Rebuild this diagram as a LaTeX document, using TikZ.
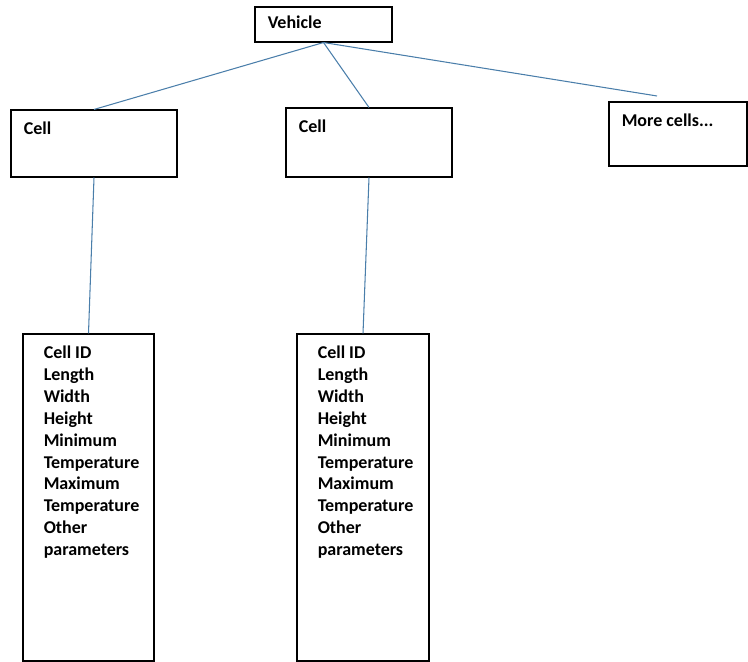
\documentclass[tikz,border=0pt]{standalone}
\usepackage{fontspec}
\setmainfont{Carlito}
\usepackage{tikz}
\usetikzlibrary{positioning}
\definecolor{linkblue}{RGB}{74,126,170}
\tikzset{
    mybox/.style = {rectangle, draw=black, line width=0.75pt, inner sep=0pt},
    mytext/.style = {anchor=north west, align=left, inner xsep=0.325cm, inner ysep=0.3cm,
                     font=\bfseries\fontsize{12.8}{15.6}\selectfont},
    mytextp/.style = {mytext, inner xsep=0.525cm},
    edgen/.style = {draw=linkblue, line width=0.75pt},
}

\begin{document}
\begin{tikzpicture}
\useasboundingbox (0,0) rectangle (18.7,16.55);
\node[mybox, minimum width=3.425cm, minimum height=0.875cm,
      label={[mytext, inner ysep=0.22cm]north west:Vehicle}] at (8.0875, 15.9375) (veh) {};
\node[mybox, minimum width=4.15cm, minimum height=1.675cm,
      label={[mytext]north west:Cell}] at (2.35, 12.9625) (c1) {};
\node[mybox, minimum width=4.15cm, minimum height=1.725cm,
      label={[mytext]north west:Cell}] at (9.225, 12.9875) (c2) {};
\node[mybox, minimum width=3.45cm, minimum height=1.6cm,
      label={[mytext]north west:More cells...}] at (16.95, 13.2) (more) {};
\node[mybox, minimum width=3.275cm, minimum height=8.175cm,
      label={[mytextp]north west:Cell ID\\Length\\Width\\Height\\Minimum\\Temperature\\Maximum\\Temperature\\Other\\parameters}]
      at (2.2125, 4.1125) (p1) {};
\node[mybox, minimum width=3.3cm, minimum height=8.175cm,
      label={[mytextp]north west:Cell ID\\Length\\Width\\Height\\Minimum\\Temperature\\Maximum\\Temperature\\Other\\parameters}]
      at (9.075, 4.1125) (p2) {};
\coordinate (moretop) at (16.425, 14.15);
%
\draw[edgen] (veh.south) -- (c1.north);
\draw[edgen] (veh.south) -- (c2.north);
\draw[edgen] (veh.south) -- (moretop);
\draw[edgen] (c1.south) -- (p1.north);
\draw[edgen] (c2.south) -- (p2.north);

\end{tikzpicture}
\end{document}
